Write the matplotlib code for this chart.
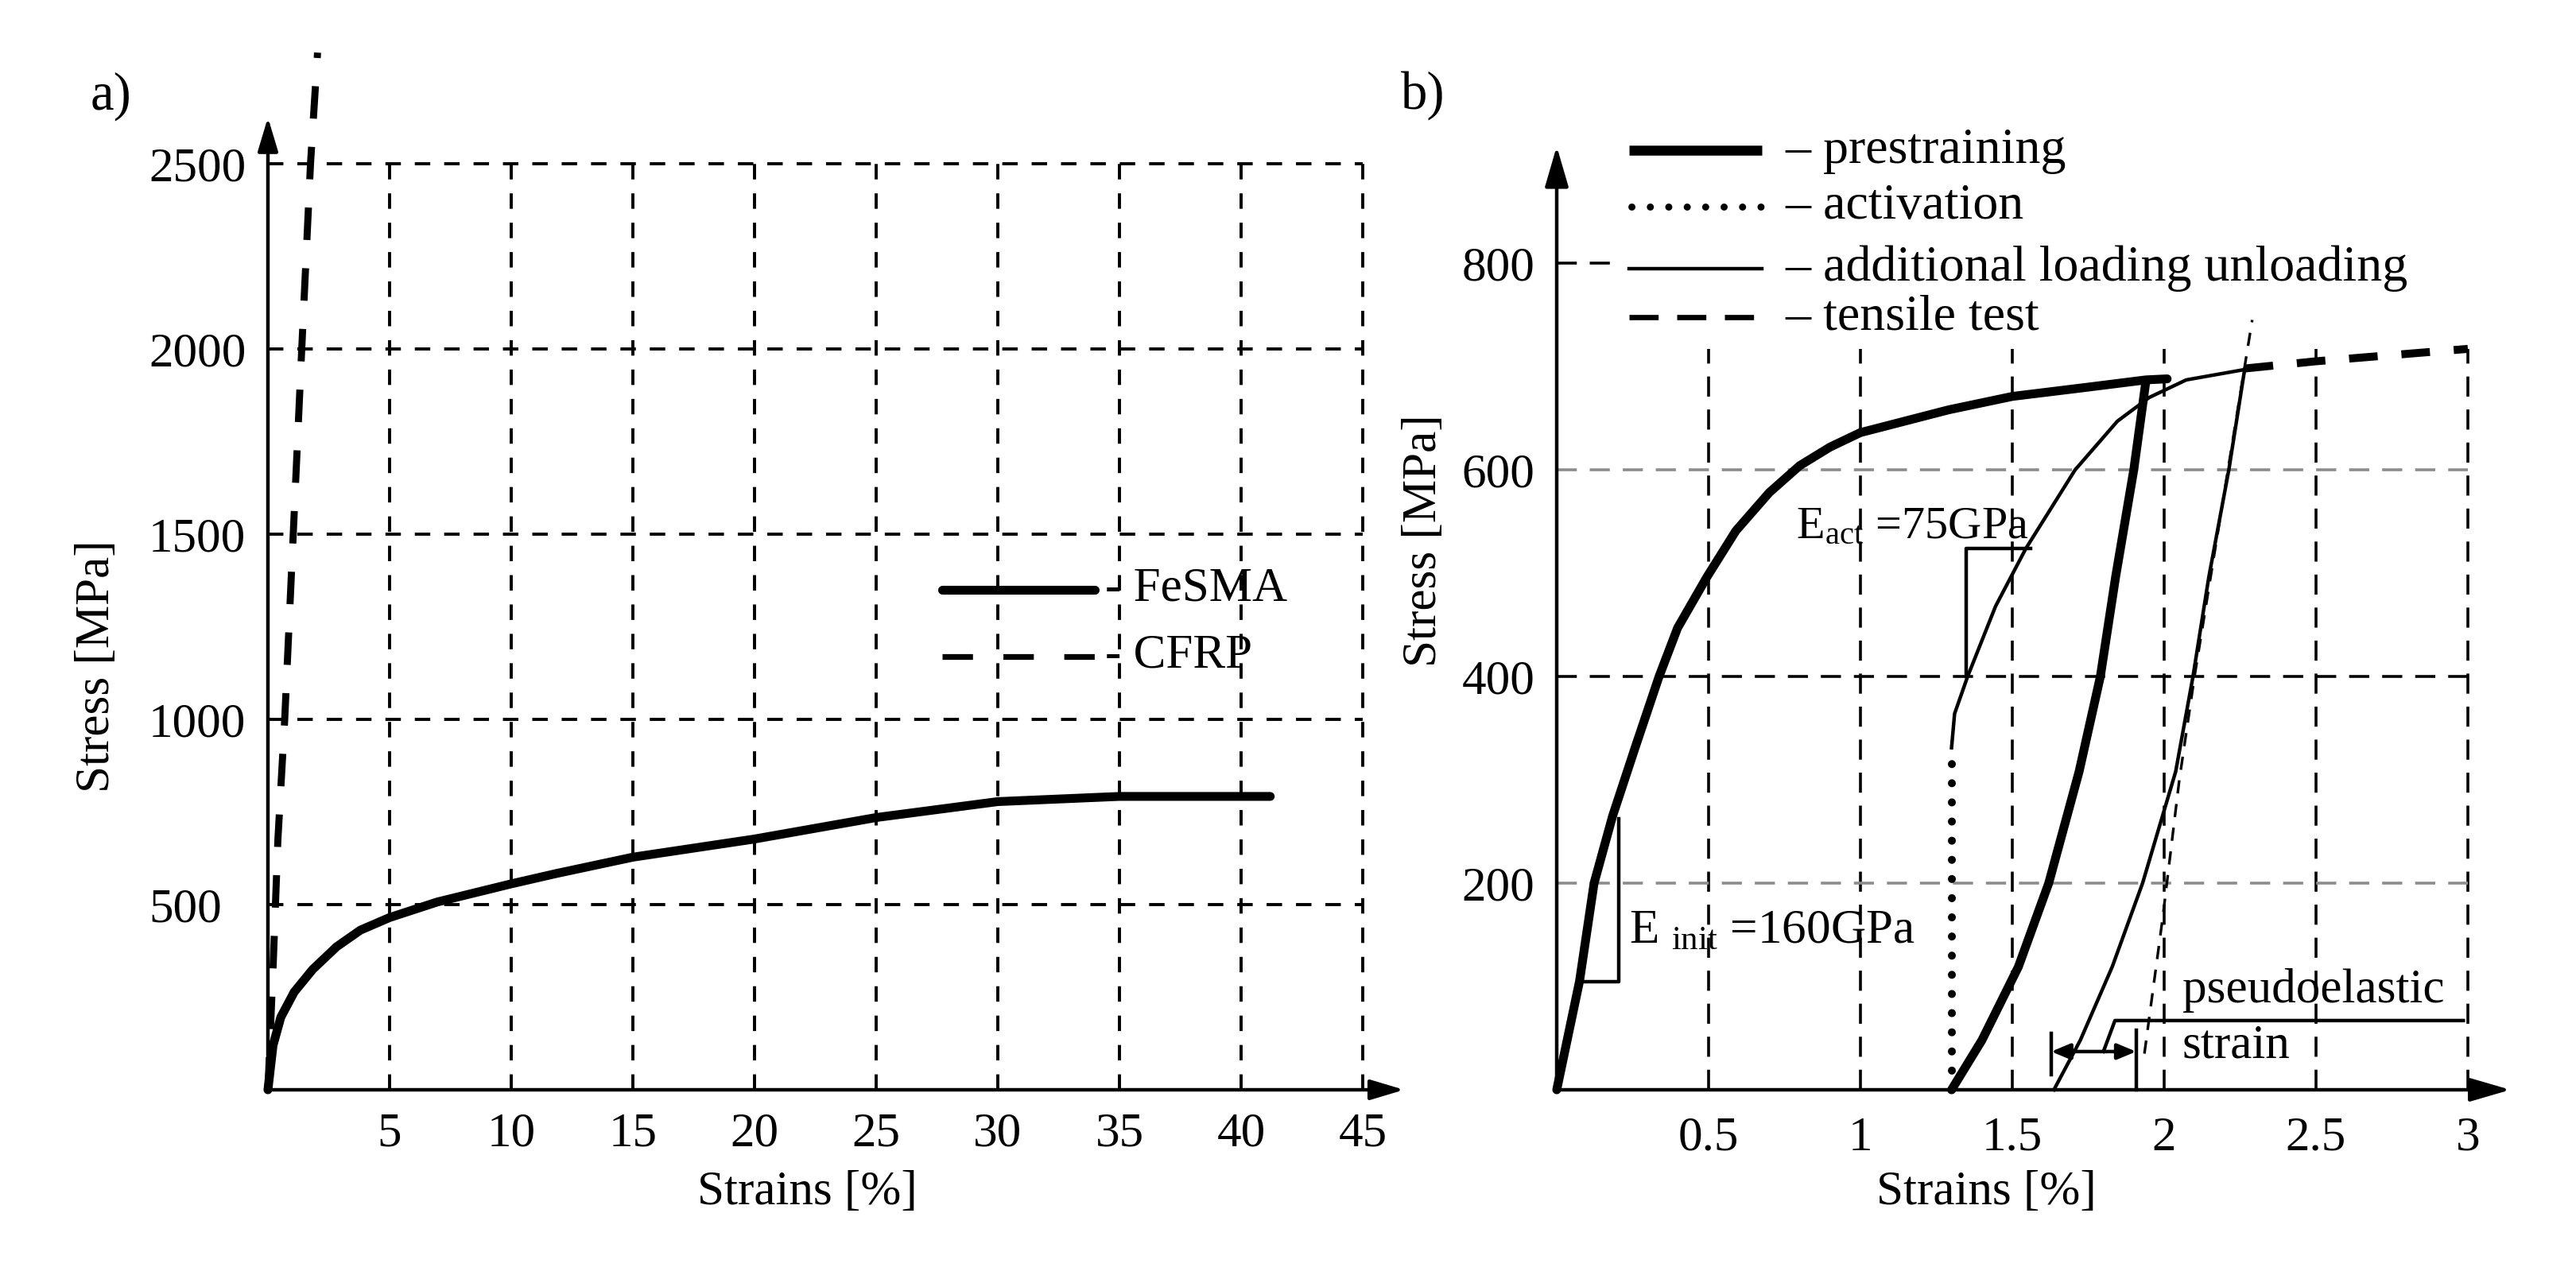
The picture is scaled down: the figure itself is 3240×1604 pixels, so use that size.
import matplotlib.pyplot as plt

plt.rcParams['font.family'] = ['Liberation Serif', 'DejaVu Serif']
plt.rcParams['mathtext.fontset'] = 'custom'
plt.rcParams['mathtext.rm'] = 'Liberation Serif'
plt.rcParams['mathtext.it'] = 'Liberation Serif:italic'

# ---- panel a) : FeSMA vs CFRP ----
fesma_strain = [0, 0.21, 0.53, 1.08, 1.84, 2.82, 3.8, 5.0, 6.96, 10.0, 11.86, 15, 20, 25, 30, 35, 41.2]
fesma_stress = [0, 120, 196, 264, 325, 386, 431, 465, 507, 556, 584, 628, 677, 735, 778, 792, 792]
cfrp_strain = [0, 0.22, 0.41, 0.69, 1.04, 1.39, 1.75, 2.04]
cfrp_stress = [0, 345, 676, 1000, 1500, 2000, 2500, 2800]
a_xticks = [5, 10, 15, 20, 25, 30, 35, 40, 45]
a_yticks = [500, 1000, 1500, 2000, 2500]

# ---- panel b) : prestraining / activation / reloading ----
pre_load_strain = [0, 0.075, 0.123, 0.184, 0.258, 0.337, 0.398, 0.494, 0.59, 0.70, 0.80, 0.90,
                   1.0, 1.29, 1.5, 1.75, 1.94, 2.01]
pre_load_stress = [0, 105, 200, 265, 331, 400, 447, 496, 541, 578, 604, 622,
                   636, 658, 671, 680, 687, 688]
pre_unload_strain = [1.94, 1.90, 1.84, 1.79, 1.72, 1.62, 1.52, 1.40, 1.30]
pre_unload_stress = [686, 600, 496, 400, 308, 200, 119, 48, 0]
act_strain = [1.30, 1.30]
act_stress = [0, 331]
add_load_strain = [1.30, 1.31, 1.353, 1.445, 1.545, 1.707, 1.846, 1.951, 2.073, 2.265]
add_load_stress = [331, 364, 400, 468, 524, 600, 647, 670, 687, 697]
add_unload_strain = [2.265, 2.213, 2.147, 2.095, 2.038, 1.929, 1.829, 1.724, 1.637]
add_unload_stress = [697, 600, 496, 400, 308, 200, 119, 48, 0]
tensile_strain = [2.265, 2.5, 2.75, 3.0]
tensile_stress = [698, 705, 711, 717]
ref_strain = [1.935, 1.995, 2.05, 2.10, 2.29]
ref_stress = [35, 166, 300, 400, 745]
b_xticks = [0.5, 1, 1.5, 2, 2.5, 3]
b_xlabels = ['0.5', '1', '1.5', '2', '2.5', '3']
b_yticks = [200, 400, 600, 800]

# slope triangles and pseudoelastic strain marker
init_tri_x = [0.092, 0.204, 0.204]
init_tri_y = [105, 105, 262]
act_tri_x = [1.349, 1.349, 1.559]
act_tri_y = [400, 524, 524]
pseudo_leader_x = [1.80, 1.838, 2.985]
pseudo_leader_y = [37, 67, 67]
pseudo_span = [1.628, 1.908]

fig = plt.figure(figsize=(16.2, 8.02), dpi=200)

grid_a = dict(color='black', lw=1.4, ls=(0, (5, 4.5)), clip_on=False, zorder=1)
axis_kw = dict(arrowstyle='-|>,head_length=1.0,head_width=0.3', lw=1.6, color='black',
               mutation_scale=13, shrinkA=0, shrinkB=0)

# ================= panel a =================
ax1 = fig.add_axes([0.10401, 0.14526, 0.44389, 0.84252])
ax1.set_xlim(0, 47)
ax1.set_ylim(0, 2900)
for s in ax1.spines.values():
    s.set_visible(False)

for x in a_xticks:
    ax1.plot([x, x], [0, 2500], **grid_a)
for y in a_yticks:
    ax1.plot([0, 45], [y, y], **grid_a)

ax1.annotate('', xy=(0, 2625), xytext=(0, 0), arrowprops=axis_kw, annotation_clip=False)
ax1.annotate('', xy=(46.7, 0), xytext=(0, 0), arrowprops=axis_kw, annotation_clip=False)

ax1.plot(cfrp_strain, cfrp_stress, color='black', lw=3.2, ls=(0, (4.6, 4)),
         clip_on=False, zorder=3)
ax1.plot(fesma_strain, fesma_stress, color='black', lw=4, solid_capstyle='round',
         solid_joinstyle='round', clip_on=False, zorder=4)

# legend drawn by hand like the original
ax1.plot([27.7, 34.0], [1350, 1350], color='black', lw=4, solid_capstyle='round')
ax1.text(34.4, 1320, '- FeSMA', fontsize=22, va='baseline', ha='left')
ax1.plot([27.7, 34.0], [1170, 1170], color='black', lw=2.6, ls=(0, (5.3, 5.3)))
ax1.text(34.4, 1140, '- CFRP', fontsize=22, va='baseline', ha='left')

ax1.set_xticks(a_xticks)
ax1.set_yticks(a_yticks)
ax1.tick_params(axis='x', length=0, pad=10, labelsize=22)
ax1.tick_params(axis='y', length=0, pad=54, labelsize=22)
for lab in ax1.get_yticklabels():
    lab.set_horizontalalignment('left')

fig.text(122 / 3240, 1 - 838 / 1604, 'Stress [MPa]', rotation=90, fontsize=22,
         ha='center', va='center')
fig.text(1015 / 3240, 1 - 1500 / 1604, 'Strains [%]', fontsize=22, ha='center', va='center')
fig.text(139 / 3240, 1 - 121 / 1604, 'a)', fontsize=24, ha='center', va='center')

# ================= panel b =================
ax2 = fig.add_axes([0.60432, 0.14526, 0.37728, 0.81047])
ax2.set_xlim(0, 3.2)
ax2.set_ylim(0, 1000)
for s in ax2.spines.values():
    s.set_visible(False)

grid_b = dict(lw=1.3, ls=(0, (7, 4.5)), clip_on=False, zorder=1)
for x in b_xticks:
    ax2.plot([x, x], [0, 717], color='black', **grid_b)
for y, c in zip([200, 400, 600], ['#8c8c8c', 'black', '#8c8c8c']):
    ax2.plot([0, 3.0], [y, y], color=c, **grid_b)
ax2.plot([0, 0.2], [800, 800], color='black', **grid_b)

axis_kw_b = dict(axis_kw, arrowstyle='-|>,head_length=1.2,head_width=0.35')
ax2.annotate('', xy=(0, 913), xytext=(0, 0), arrowprops=axis_kw_b, annotation_clip=False)
ax2.annotate('', xy=(3.14, 0), xytext=(0, 0), arrowprops=axis_kw_b, annotation_clip=False)

thick = dict(color='black', lw=4, solid_capstyle='round', solid_joinstyle='round',
             clip_on=False, zorder=4)
thin = dict(color='black', lw=1.6, solid_joinstyle='round', clip_on=False, zorder=4)
ax2.plot(pre_load_strain, pre_load_stress, **thick)
ax2.plot(pre_unload_strain, pre_unload_stress, **thick)
ax2.plot(act_strain, act_stress, color='black', lw=3.6, ls=(0, (0.01, 2.4)),
         dash_capstyle='round', clip_on=False, zorder=4)
ax2.plot(add_load_strain, add_load_stress, **thin)
ax2.plot(add_unload_strain, add_unload_stress, **thin)
ax2.plot(tensile_strain, tensile_stress, color='black', lw=3.6, ls=(0, (3.6, 3)),
         clip_on=False, zorder=4)
ax2.plot(ref_strain, ref_stress, color='black', lw=1.2, ls=(0, (5, 4)), clip_on=False, zorder=3)

# slope triangles
ax2.plot(init_tri_x, init_tri_y, **thin)
ax2.plot(act_tri_x, act_tri_y, **thin)
ax2.text(0.237, 143, r'E $_{\mathrm{init}}$ =160GPa', fontsize=22, va='baseline', ha='left')
ax2.text(0.788, 534, r'E$_{\mathrm{act}}$ =75GPa', fontsize=21, va='baseline', ha='left')

# pseudoelastic strain marker
ax2.plot(pseudo_leader_x, pseudo_leader_y, **thin)
ax2.annotate('', xy=(pseudo_span[0], 37), xytext=(pseudo_span[1], 37),
             arrowprops=dict(arrowstyle='<|-|>,head_length=0.6,head_width=0.25', lw=1.6,
                             color='black', mutation_scale=12, shrinkA=0, shrinkB=0))
ax2.plot([pseudo_span[0], pseudo_span[0]], [15, 55], **thin)
ax2.plot([pseudo_span[1], pseudo_span[1]], [0, 58], **thin)
ax2.text(2.06, 85, 'pseudoelastic', fontsize=22, va='baseline', ha='left')
ax2.text(2.06, 31, 'strain', fontsize=22, va='baseline', ha='left')

# legend drawn by hand
leg_rows = [909, 855, 795, 748]
leg_names = ['– prestraining', '– activation', '– additional loading unloading', '– tensile test']
ax2.plot([0.238, 0.675], [leg_rows[0]] * 2, color='black', lw=4.5, solid_capstyle='butt',
         clip_on=False)
ax2.plot([0.245, 0.675], [leg_rows[1]] * 2, color='black', lw=3.2, ls=(0, (0.01, 2.6)),
         dash_capstyle='round', clip_on=False)
ax2.plot([0.238, 0.675], [leg_rows[2]] * 2, color='black', lw=1.6, clip_on=False)
ax2.plot([0.238, 0.675], [leg_rows[3]] * 2, color='black', lw=2.4, ls=(0, (5.5, 3.5)),
         clip_on=False)
for y, name in zip(leg_rows, leg_names):
    ax2.text(0.751, y - 12, name, fontsize=23, va='baseline', ha='left')

ax2.set_xticks(b_xticks)
ax2.set_xticklabels(b_xlabels)
ax2.set_yticks(b_yticks)
ax2.tick_params(axis='x', length=0, pad=12, labelsize=22)
ax2.tick_params(axis='y', length=0, pad=10, labelsize=22)

fig.text(1791 / 3240, 1 - 680 / 1604, 'Stress [MPa]', rotation=90, fontsize=22,
         ha='center', va='center')
fig.text(2498 / 3240, 1 - 1500 / 1604, 'Strains [%]', fontsize=22, ha='center', va='center')
fig.text(1790 / 3240, 1 - 120 / 1604, 'b)', fontsize=24, ha='center', va='center')

fig.savefig('out.png', dpi=200)
